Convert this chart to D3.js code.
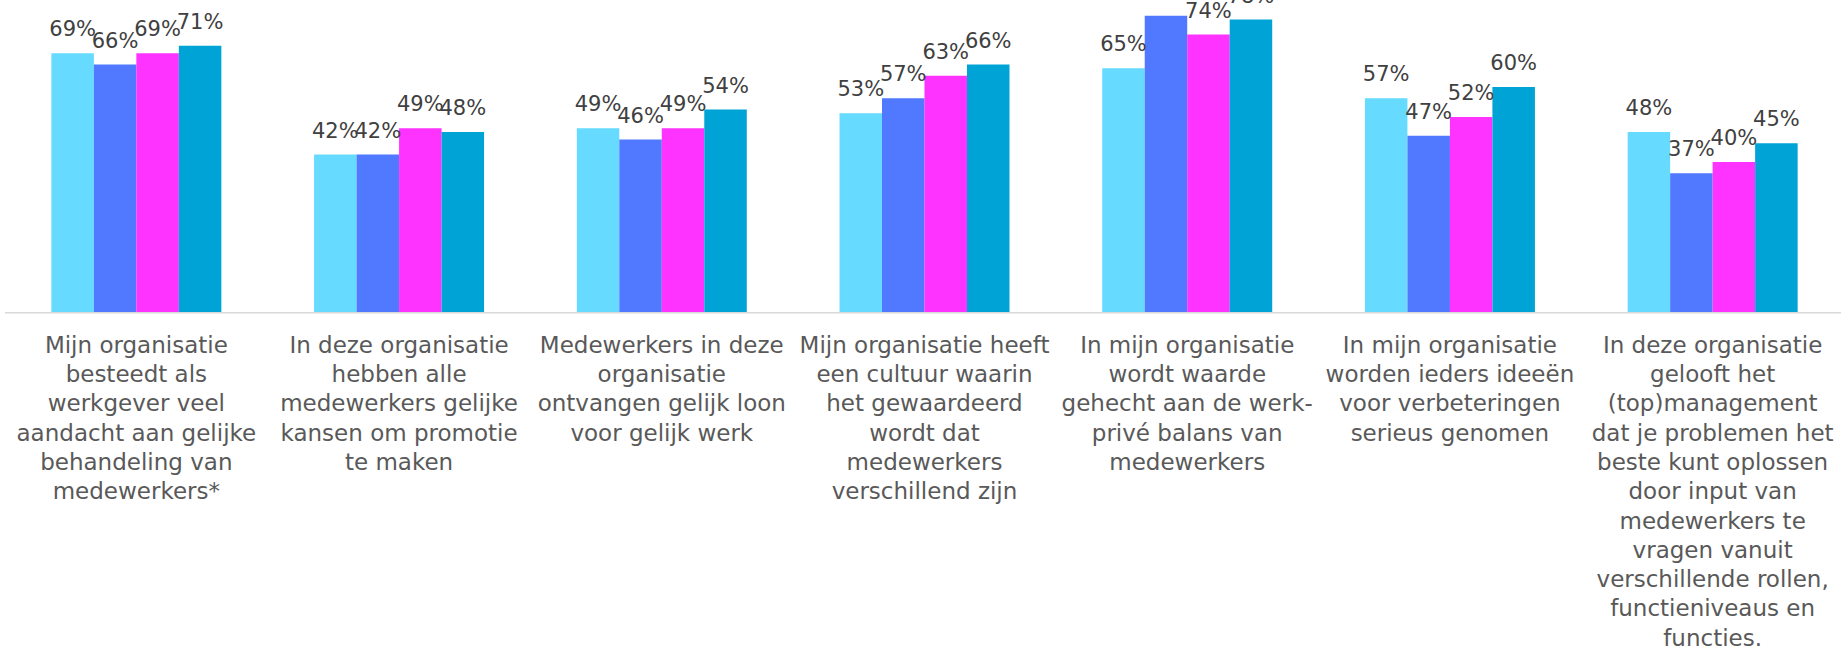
<!DOCTYPE html>
<html>
<head>
<meta charset="utf-8">
<title>Gelijke behandeling</title>
<style>
  body { margin: 0; background: #fff; }
  .value { font-family: "DejaVu Sans", sans-serif; font-size: 21px; fill: #404040; text-anchor: middle; }
  .cat { font-family: "DejaVu Sans", sans-serif; font-size: 23px; fill: #595959; text-anchor: middle; }
</style>
</head>
<body>
<svg width="1841" height="647"></svg>
<script src="https://d3js.org/d3.v7.min.js"></script>
<script>

// category labels, one entry per line as wrapped in the original
var categories = [
  ["Mijn organisatie", "besteedt als", "werkgever veel", "aandacht aan gelijke", "behandeling van", "medewerkers*"],
  ["In deze organisatie", "hebben alle", "medewerkers gelijke", "kansen om promotie", "te maken"],
  ["Medewerkers in deze", "organisatie", "ontvangen gelijk loon", "voor gelijk werk"],
  ["Mijn organisatie heeft", "een cultuur waarin", "het gewaardeerd", "wordt dat", "medewerkers", "verschillend zijn"],
  ["In mijn organisatie", "wordt waarde", "gehecht aan de werk-", "privé balans van", "medewerkers"],
  ["In mijn organisatie", "worden ieders ideeën", "voor verbeteringen", "serieus genomen"],
  ["In deze organisatie", "gelooft het", "(top)management", "dat je problemen het", "beste kunt oplossen", "door input van", "medewerkers te", "vragen vanuit", "verschillende rollen,", "functieniveaus en", "functies."]
];

var series1 = [69, 42, 49, 53, 65, 57, 48];
var series2 = [66, 42, 46, 57, 79, 47, 37];
var series3 = [69, 49, 49, 63, 74, 52, 40];
var series4 = [71, 48, 54, 66, 78, 60, 45];

var seriesKeys = ["s1", "s2", "s3", "s4"];
var colors = ["#66dbff", "#5079ff", "#ff33ff", "#00a3d5"];

var data = categories.map(function(c, i) {
  return { idx: i, lines: c, s1: series1[i], s2: series2[i], s3: series3[i], s4: series4[i] };
});

var svg = d3.select("svg"),
    baseline = 312;

var x0 = d3.scaleBand()
    .domain(d3.range(categories.length))
    .range([5, 1844])
    .paddingInner(0.353)
    .paddingOuter(0.1765);

var x1 = d3.scaleBand()
    .domain(seriesKeys)
    .range([0, x0.bandwidth()]);

var y = d3.scaleLinear()
    .domain([0, 80])
    .range([baseline, 12]);

var color = d3.scaleOrdinal().domain(seriesKeys).range(colors);

var groups = svg.append("g").selectAll("g")
  .data(data)
  .enter().append("g")
    .attr("transform", function(d) { return "translate(" + x0(d.idx) + ",0)"; });

var cells = function(d) {
  return seriesKeys.map(function(k) { return { key: k, value: d[k] }; });
};

groups.selectAll("rect")
  .data(cells)
  .enter().append("rect")
    .attr("x", function(d) { return x1(d.key); })
    .attr("y", function(d) { return y(d.value); })
    .attr("width", x1.bandwidth())
    .attr("height", function(d) { return baseline - y(d.value); })
    .style("fill", function(d) { return color(d.key); });

// axis line
svg.append("line")
    .attr("x1", 5)
    .attr("x2", 1841)
    .attr("y1", baseline + 0.75)
    .attr("y2", baseline + 0.75)
    .style("stroke", "#d9d9d9")
    .style("stroke-width", 1.5);

// value labels
groups.selectAll("text.value")
  .data(cells)
  .enter().append("text")
    .attr("class", "value")
    .attr("x", function(d) { return x1(d.key) + x1.bandwidth() / 2; })
    .attr("y", function(d) { return y(d.value) - 17; })
    .text(function(d) { return d.value + "%"; });

// category labels
var labels = svg.append("g").selectAll("text")
  .data(data)
  .enter().append("text")
    .attr("class", "cat")
    .attr("x", function(d) { return x0(d.idx) + x0.bandwidth() / 2; })
    .attr("y", 352.7);

labels.selectAll("tspan")
  .data(function(d) { return d.lines; })
  .enter().append("tspan")
    .attr("x", function() { return d3.select(this.parentNode).attr("x"); })
    .attr("dy", function(d, i) { return i === 0 ? 0 : 29.3; })
    .text(function(d) { return d; });

</script>
</body>
</html>
